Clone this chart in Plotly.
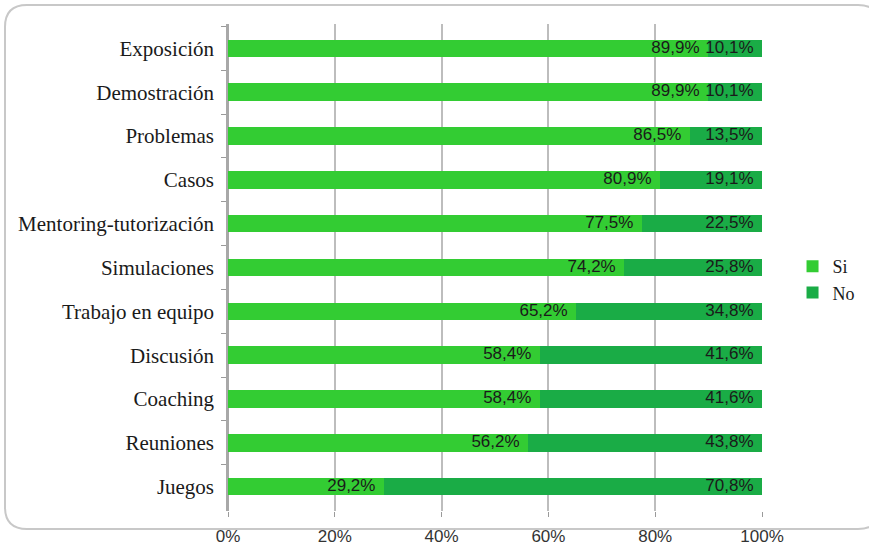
import plotly.graph_objects as go

categories = ["Exposición", "Demostración", "Problemas", "Casos", "Mentoring-tutorización",
              "Simulaciones", "Trabajo en equipo", "Discusión", "Coaching", "Reuniones", "Juegos"]
si_values = [89.9, 89.9, 86.5, 80.9, 77.5, 74.2, 65.2, 58.4, 58.4, 56.2, 29.2]
no_values = [10.1, 10.1, 13.5, 19.1, 22.5, 25.8, 34.8, 41.6, 41.6, 43.8, 70.8]
tick_vals = [0, 20, 40, 60, 80, 100]
tick_text = ["0%", "20%", "40%", "60%", "80%", "100%"]

W, H = 869, 559
ML, MR, MT, MB = 228, 107, 24, 48

def fmt(v):
    return f"{v:.1f}".replace(".", ",") + "%"

label_font = dict(family="Liberation Sans, Arial, sans-serif", size=17, color="#1a1a1a")
serif = "Liberation Serif, serif"

fig = go.Figure()
fig.add_trace(go.Bar(
    y=categories, x=si_values, orientation="h", name="Si", legendgroup="si",
    marker=dict(color="#33CC33", line=dict(width=0)), hoverinfo="skip",
))
fig.add_trace(go.Bar(
    y=categories, x=no_values, orientation="h", name="No", legendgroup="no",
    marker=dict(color="#1AAC46", line=dict(width=0)), hoverinfo="skip",
))
# data labels at the end of each stacked segment
si_end = si_values
no_end = [s + n for s, n in zip(si_values, no_values)]
fig.add_trace(go.Scatter(
    y=categories, x=si_end, mode="text", text=[fmt(v) + "\u2002" for v in si_values],
    textposition="middle left", textfont=label_font, showlegend=False, hoverinfo="skip",
    cliponaxis=False,
))
fig.add_trace(go.Scatter(
    y=categories, x=no_end, mode="text", text=[fmt(v) + "\u2002" for v in no_values],
    textposition="middle left", textfont=label_font, showlegend=False, hoverinfo="skip",
    cliponaxis=False,
))

pw = W - ML - MR
ph = H - MT - MB
def px2paper(x, y):
    return (x - ML) / pw, (H - MB - y) / ph

# rounded border
x0, y0, x1, y1, r = 5, 5, 880, 529, 22
def P(x, y):
    a, b = px2paper(x, y)
    return f"{a:.5f},{b:.5f}"
path = (f"M {P(x0 + r, y0)} L {P(x1 - r, y0)} Q {P(x1, y0)} {P(x1, y0 + r)} "
        f"L {P(x1, y1 - r)} Q {P(x1, y1)} {P(x1 - r, y1)} L {P(x0 + r, y1)} "
        f"Q {P(x0, y1)} {P(x0, y1 - r)} L {P(x0, y0 + r)} Q {P(x0, y0)} {P(x0 + r, y0)} Z")

fig.update_layout(
    width=W, height=H, barmode="stack", bargap=0.6,
    margin=dict(l=ML, r=MR, t=MT, b=MB, autoexpand=False),
    paper_bgcolor="white", plot_bgcolor="white",
    font=dict(family=serif, size=18, color="#1a1a1a"),
    shapes=[dict(type="path", path=path, xref="paper", yref="paper",
                 line=dict(color="#c8c8c8", width=2), fillcolor="rgba(0,0,0,0)", layer="below")],
    legend=dict(xref="container", yref="container", x=0.912, y=0.5, xanchor="left", yanchor="middle",
                font=dict(family=serif, size=18, color="#1a1a1a"), traceorder="normal",
                itemwidth=30, tracegroupgap=18, bgcolor="rgba(0,0,0,0)"),
    showlegend=True,
)
fig.update_xaxes(
    range=[0, 100], tickvals=tick_vals, ticktext=tick_text,
    showgrid=True, gridcolor="#bdbdbd", gridwidth=1.5,
    ticks="outside", ticklen=5, tickcolor="#9a9a9a", ticklabelstandoff=5,
    showline=False, zeroline=True, zerolinecolor="#a8a8a8", zerolinewidth=1.5,
    tickfont=dict(family="Liberation Sans, Arial, sans-serif", size=17, color="#333333"),
)
fig.update_yaxes(
    categoryorder="array", categoryarray=categories, autorange="reversed",
    ticks="outside", ticklen=5, tickcolor="#9a9a9a", tickson="boundaries",
    ticklabelstandoff=8,
    showline=True, linecolor="#a8a8a8", linewidth=1.5,
    tickfont=dict(family=serif, size=21, color="#1a1a1a"),
)
fig.write_html("out.html")
